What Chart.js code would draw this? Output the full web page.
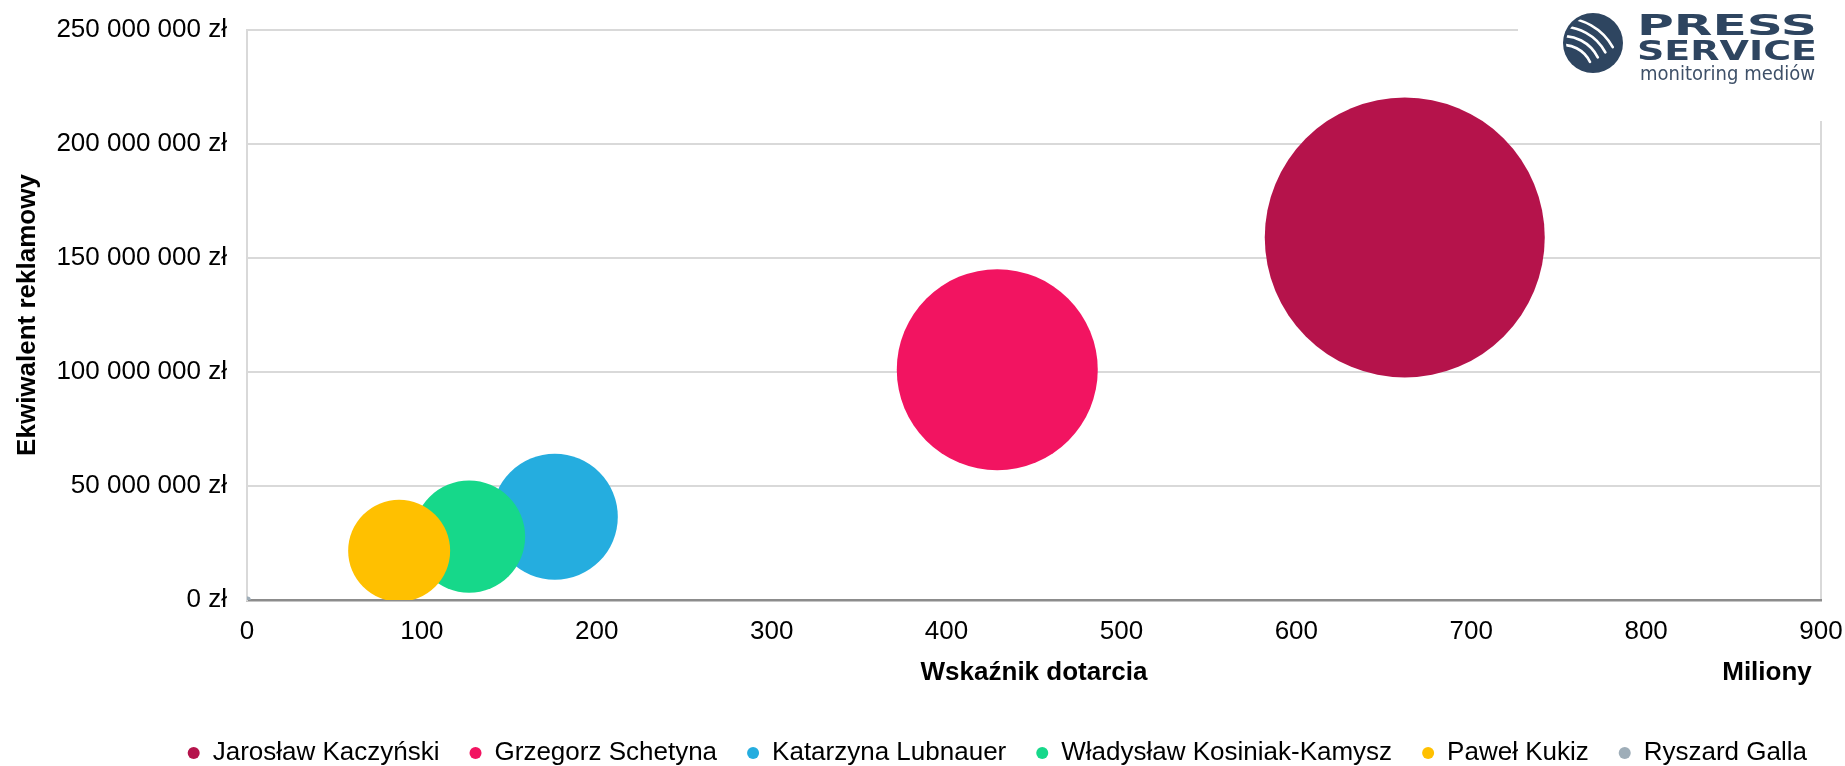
<!DOCTYPE html>
<html>
<head>
<meta charset="utf-8">
<script src="https://cdn.jsdelivr.net/npm/chart.js@4.4.1/dist/chart.umd.min.js"></script>
<style>
  html, body { margin: 0; padding: 0; background: #fff; }
  canvas { display: block; }
</style>
</head>
<body>
<canvas id="bubbleChart" width="1845" height="766"></canvas>
<script>
// dane
const kandydaci = ['Jarosław Kaczyński', 'Grzegorz Schetyna', 'Katarzyna Lubnauer', 'Władysław Kosiniak-Kamysz', 'Paweł Kukiz', 'Ryszard Galla']
const dotarcie = [662, 429, 176, 127, 87, 0.3] // mln
const ekwiwalent = [159000000, 101000000, 36500000, 27800000, 21600000, 200000] // zł
const wielkosc = [196, 101, 39.7, 31.4, 26, 0.1] // wielkość bąbla
const kolory = ['#b5134b', '#f21461', '#25addf', '#16d88a', '#ffc000', '#9eadb8']
const xTicks = [0, 100, 200, 300, 400, 500, 600, 700, 800, 900]
const yTicks = [0, 50000000, 100000000, 150000000, 200000000, 250000000]

const FONT = '"Liberation Sans", Arial, sans-serif'
const FS = 26
const MAX_R = 140
const maxW = Math.max(...wielkosc)

function zl(v) {
  return String(v).replace(/\B(?=(\d{3})+(?!\d))/g, ' ') + ' zł'
}

// logo + "Miliony"
const extras = {
  id: 'extras',
  afterDraw(chart) {
    const ctx = chart.ctx
    const x = chart.scales.x
    ctx.save()
    ctx.font = 'bold ' + FS + 'px ' + FONT
    ctx.fillStyle = '#000'
    ctx.textAlign = 'center'
    ctx.textBaseline = 'middle'
    ctx.fillText('Miliony', 1767, x.bottom - 22 - FS * 0.6)

    // logo
    ctx.fillStyle = '#fff'
    ctx.fillRect(1518, 0, 327, 121)
    const cx = 1593, cy = 43, r = 30
    ctx.fillStyle = '#2e4560'
    ctx.beginPath()
    ctx.arc(cx, cy, r, 0, Math.PI * 2)
    ctx.fill()
    ctx.save()
    ctx.beginPath()
    ctx.arc(cx, cy, r - 3, 0, Math.PI * 2)
    ctx.clip()
    ctx.strokeStyle = '#fff'
    ctx.lineCap = 'round'
    ;[30, 39, 48, 57].forEach(function (rr, i) {
      ctx.lineWidth = 2.6
      ctx.beginPath()
      ctx.arc(cx - 30, cy + 32, rr, -1.75 + i * 0.05, -0.45 - i * 0.02)
      ctx.stroke()
    })
    ctx.restore()

    function fitText(txt, font, x0, w, baseY, color) {
      ctx.font = font
      ctx.fillStyle = color
      ctx.textAlign = 'left'
      ctx.textBaseline = 'alphabetic'
      const m = ctx.measureText(txt).width
      ctx.save()
      ctx.translate(x0, baseY)
      ctx.scale(w / m, 1)
      ctx.fillText(txt, 0, 0)
      ctx.restore()
    }
    fitText('PRESS', 'bold 28px "DejaVu Sans", sans-serif', 1637, 180, 35, '#2e4560')
    fitText('SERVICE', 'bold 26px "DejaVu Sans", sans-serif', 1637, 180, 60, '#2e4560')
    fitText('monitoring mediów', '19px "DejaVu Sans", sans-serif', 1640, 175, 80, '#3e5068')
    ctx.restore()
  },
}

const datasets = kandydaci.map(function (name, i) {
  return {
    label: name,
    data: [{ x: dotarcie[i], y: ekwiwalent[i], r: MAX_R * Math.sqrt(wielkosc[i] / maxW) }],
    backgroundColor: kolory[i],
    borderWidth: 0,
    order: kandydaci.length - i,
    clip: 0,
  }
})

new Chart(document.getElementById('bubbleChart'), {
  type: 'bubble',
  data: { datasets: datasets },
  options: {
    responsive: false,
    animation: false,
    devicePixelRatio: 1,
    events: [],
    layout: { autoPadding: false, padding: { top: 30, left: 0, right: 8, bottom: -10 } },
    plugins: {
      tooltip: { enabled: false },
      legend: {
        position: 'bottom',
        align: 'end',
        labels: {
          usePointStyle: true,
          pointStyle: 'circle',
          boxWidth: 12,
          boxHeight: 8.5,
          padding: 30,
          color: '#000',
          font: { family: FONT, size: FS },
          sort: function (a, b) { return a.datasetIndex - b.datasetIndex },
        },
      },
    },
    scales: {
      x: {
        type: 'linear',
        min: 0,
        max: 900,
        afterBuildTicks: function (s) { s.ticks = xTicks.map(function (v) { return { value: v } }) },
        afterFit: function (s) {
          s.height = 110
          s.paddingLeft = 0
          s.paddingRight = 24
        },
        ticks: { color: '#000', padding: 16, font: { family: FONT, size: FS } },
        grid: {
          drawTicks: false,
          color: function (c) { return c.tick && c.tick.value === 900 ? '#d9d9d9' : 'rgba(0,0,0,0)' },
          lineWidth: 2,
        },
        border: { color: '#8c8c8c', width: 2.5 },
        title: {
          display: true,
          text: 'Wskaźnik dotarcia',
          color: '#000',
          padding: { top: 9, bottom: 22 },
          font: { family: FONT, size: FS, weight: 'bold' },
        },
      },
      y: {
        type: 'linear',
        min: 0,
        max: 250000000,
        afterBuildTicks: function (s) { s.ticks = yTicks.map(function (v) { return { value: v } }) },
        afterFit: function (s) {
          s.width = 247
          s.paddingTop = 0
          s.paddingBottom = 0
        },
        ticks: { color: '#000', padding: 20, font: { family: FONT, size: FS }, callback: zl },
        grid: { drawTicks: false, color: '#d9d9d9', lineWidth: 2 },
        border: { color: '#d9d9d9', width: 2 },
        title: {
          display: true,
          text: 'Ekwiwalent reklamowy',
          color: '#000',
          padding: { top: 12, bottom: 9 },
          font: { family: FONT, size: FS, weight: 'bold' },
        },
      },
    },
  },
  plugins: [extras],
})
</script>
</body>
</html>
